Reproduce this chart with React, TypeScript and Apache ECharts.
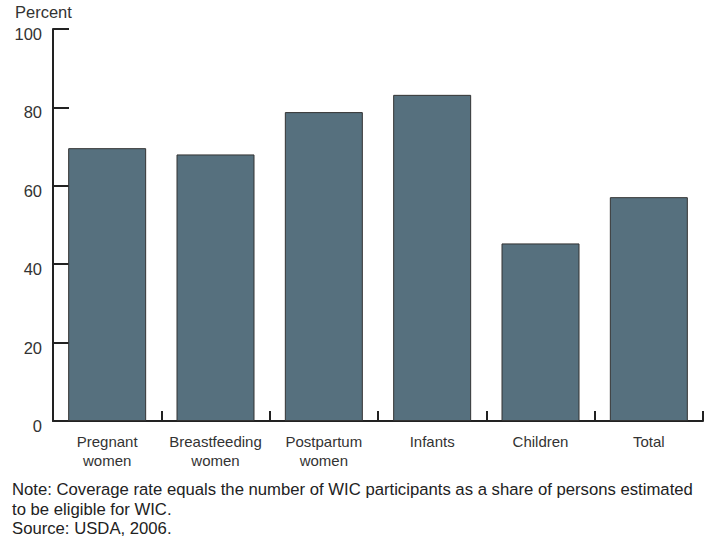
import React, { useEffect, useRef } from "react";
import * as echarts from "echarts";

const categories = ["Pregnant\nwomen", "Breastfeeding\nwomen", "Postpartum\nwomen", "Infants", "Children", "Total"];
const coverage = [69.6, 68.0, 78.8, 83.2, 45.3, 57.1];
const yTicks = { min: 0, max: 100, interval: 20 };
const yTitle = "Percent";
const noteLines = [
  "Note: Coverage rate equals the number of WIC participants as a share of persons estimated",
  "to be eligible for WIC.",
  "Source: USDA, 2006.",
];

const FONT = "'Liberation Sans', Arial, sans-serif";

export default function App() {
  const ref = useRef<HTMLDivElement>(null);
  useEffect(() => {
    if (!ref.current) return;
    const chart = echarts.init(ref.current, undefined, { renderer: "svg" });
    chart.setOption({
      animation: false,
      backgroundColor: "#ffffff",
      grid: { left: 53, right: 15, top: 29, bottom: 123, containLabel: false },
      xAxis: {
        type: "category",
        data: categories,
        boundaryGap: true,
        axisLine: { show: true, lineStyle: { color: "#222", width: 2 } },
        axisTick: { show: true, inside: true, length: 10, interval: 0, alignWithLabel: false, lineStyle: { color: "#222", width: 2 } },
        axisLabel: { color: "#333", fontFamily: FONT, fontSize: 15, lineHeight: 19, margin: 11, interval: 0 },
      },
      yAxis: {
        type: "value",
        min: yTicks.min,
        max: yTicks.max,
        interval: yTicks.interval,
        splitLine: { show: false },
        axisLine: { show: true, lineStyle: { color: "#222", width: 2 } },
        axisTick: { show: true, inside: true, length: 16, lineStyle: { color: "#222", width: 2 } },
        axisLabel: {
          margin: 11,
          formatter: (v: number) => `{a|${v}}`,
          rich: { a: { color: "#333", fontFamily: FONT, fontSize: 16.5, padding: [10, 0, 0, 0] } },
        },
      },
      series: [
        {
          type: "bar",
          data: coverage,
          barWidth: 78,
          itemStyle: { color: "#56707e", borderColor: "#333", borderWidth: 1 },
        },
      ],
      graphic: [
        { type: "text", left: 15, top: 3, style: { text: yTitle, fill: "#333", font: `16.5px ${FONT}` } },
        ...noteLines.map((t, i) => ({
          type: "text",
          left: 12,
          top: 481 + i * 19.5,
          style: { text: t, fill: "#222", font: `16.7px ${FONT}` },
        })),
      ],
    });
    return () => chart.dispose();
  }, []);
  return <div ref={ref} style={{ width: 718, height: 544, position: "absolute", left: 0, top: 0 }} />;
}
